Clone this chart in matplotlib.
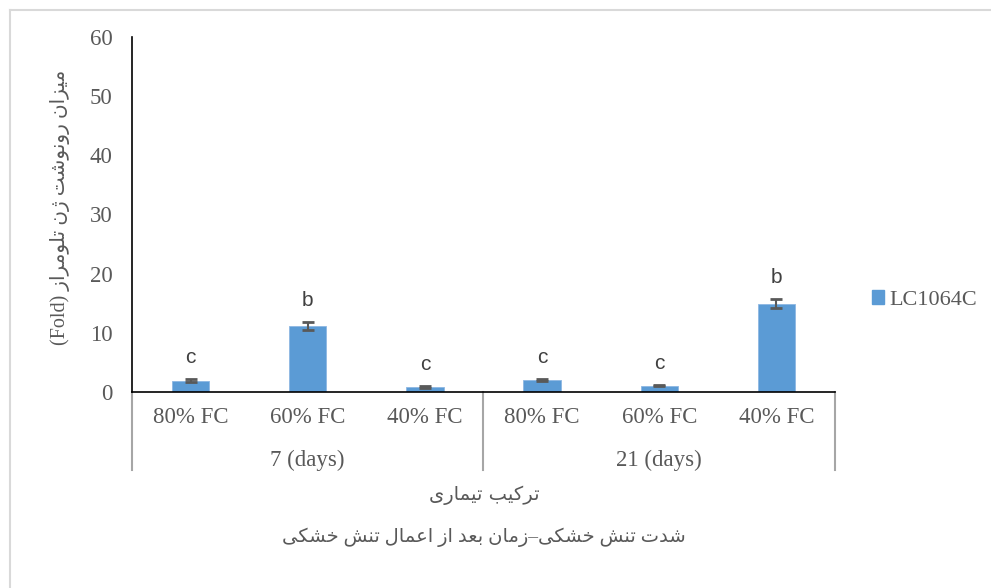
import matplotlib
matplotlib.use('Agg')
import matplotlib.pyplot as plt
from matplotlib.lines import Line2D
from matplotlib.patches import Patch
import matplotlib.transforms as mtransforms

# data
categories = ['80% FC', '60% FC', '40% FC', '80% FC', '60% FC', '40% FC']
groups = ['7 (days)', '21 (days)']
values = [1.9, 11.1, 0.85, 2.0, 1.05, 14.9]
errors = [0.25, 0.7, 0.1, 0.2, 0.1, 0.75]
letters = ['c', 'b', 'c', 'c', 'c', 'b']
series_name = 'LC1064C'
yticks = [0, 10, 20, 30, 40, 50, 60]

ylabel_fa = 'میزان رونوشت ژن تلومراز'
xlabel1_fa = 'ترکیب تیماری'
xlabel2_fa = 'شدت تنش خشکی–زمان بعد از اعمال تنش خشکی'

# simple persian shaping (matplotlib has no RTL layout)
# isolated, final, initial, medial
FORMS = {
    'ا': ('\uFE8D', '\uFE8E', None, None),
    'ب': ('\uFE8F', '\uFE90', '\uFE91', '\uFE92'),
    'ت': ('\uFE95', '\uFE96', '\uFE97', '\uFE98'),
    'خ': ('\uFEA5', '\uFEA6', '\uFEA7', '\uFEA8'),
    'د': ('\uFEA9', '\uFEAA', None, None),
    'ر': ('\uFEAD', '\uFEAE', None, None),
    'ز': ('\uFEAF', '\uFEB0', None, None),
    'ژ': ('\uFB8A', '\uFB8B', None, None),
    'ش': ('\uFEB5', '\uFEB6', '\uFEB7', '\uFEB8'),
    'ع': ('\uFEC9', '\uFECA', '\uFECB', '\uFECC'),
    'ک': ('\uFB8E', '\uFB8F', '\uFB90', '\uFB91'),
    'ل': ('\uFEDD', '\uFEDE', '\uFEDF', '\uFEE0'),
    'م': ('\uFEE1', '\uFEE2', '\uFEE3', '\uFEE4'),
    'ن': ('\uFEE5', '\uFEE6', '\uFEE7', '\uFEE8'),
    'و': ('\uFEED', '\uFEEE', None, None),
    'ی': ('\uFBFC', '\uFBFD', '\uFBFE', '\uFBFF'),
}


def shape_fa(text):
    out = []
    for i, ch in enumerate(text):
        if ch not in FORMS:
            out.append(ch)
            continue
        prev = text[i - 1] if i > 0 else ''
        nxt = text[i + 1] if i + 1 < len(text) else ''
        join_prev = prev in FORMS and FORMS[prev][2] is not None
        join_next = nxt in FORMS and FORMS[ch][2] is not None
        iso, fin, ini, med = FORMS[ch]
        if join_prev and join_next:
            out.append(med)
        elif join_prev:
            out.append(fin)
        elif join_next:
            out.append(ini)
        else:
            out.append(iso)
    return ''.join(out)[::-1]


W, H = 991, 588
fig = plt.figure(figsize=(W / 100, H / 100), dpi=100)
ax = fig.add_axes([132 / W, 1 - 392 / H, (835 - 132) / W, (392 - 37) / H])

serif = ['Liberation Serif', 'DejaVu Sans']
gray = '#595959'
fs = 16.5

x = list(range(len(values)))
ax.bar(x, values, width=0.32, color='#5B9BD5', edgecolor='#8DB7E3', linewidth=0.6, zorder=2)
ax.errorbar(x, values, yerr=errors, fmt='none', ecolor=gray, elinewidth=1.5,
            capsize=4, capthick=2, zorder=3)

for xi, v, e, t in zip(x, values, errors, letters):
    ax.text(xi, v + e + 3.7, t, ha='center', va='center', fontsize=15,
            family='Liberation Sans', color='#404040')

ax.set_xlim(-0.5, 5.5)
ax.set_ylim(0, 60)
ax.set_yticks(yticks)
ax.set_yticklabels([str(t) for t in yticks], family=serif, fontsize=fs, color=gray)
ax.set_xticks(x)
ax.set_xticklabels(categories, family=serif, fontsize=fs, color=gray)
ax.tick_params(axis='y', length=0, pad=14)
ax.tick_params(axis='x', length=0, pad=11)

for s in ['top', 'right']:
    ax.spines[s].set_visible(False)
for s in ['left', 'bottom']:
    ax.spines[s].set_color('black')
    ax.spines[s].set_linewidth(1.2)

# group separators and group labels
trans = mtransforms.blended_transform_factory(ax.transData, ax.transAxes)
for sx in [-0.5, 2.5, 5.5]:
    ax.plot([sx, sx], [0, -78 / 355], color='#A6A6A6', lw=1.5, transform=trans,
            clip_on=False)
for gi, g in enumerate(groups):
    ax.text(gi * 3 + 1, -68 / 355, g, transform=trans, ha='center', va='center',
            family=serif, fontsize=fs, color=gray)

# axis titles (persian)
fig.text(60 / W, 1 - 207 / H, '(Fold) ' + shape_fa(ylabel_fa), rotation=90,
         ha='center', va='center', family=serif, fontsize=14.5, color=gray)
fig.text(484 / W, 1 - 495 / H, shape_fa(xlabel1_fa), ha='center', va='center',
         family=['DejaVu Sans'], fontsize=14, color=gray)
fig.text(484 / W, 1 - 537 / H, shape_fa(xlabel2_fa), ha='center', va='center',
         family=serif, fontsize=14, color=gray)

# legend
ax.legend(handles=[Patch(color='#5B9BD5', label=series_name)], loc='center left',
          bbox_to_anchor=(852 / W, 1 - 300 / H), bbox_transform=fig.transFigure,
          frameon=False, handlelength=0.55, handleheight=0.55, handletextpad=0.25,
          prop={'family': serif, 'size': 16}, labelcolor=gray)

# outer frame line (top and left)
fig.add_artist(Line2D([10 / W, 10 / W], [0, 1 - 10 / H], color='#D9D9D9', lw=1.5,
                      transform=fig.transFigure))
fig.add_artist(Line2D([10 / W, 1], [1 - 10 / H, 1 - 10 / H], color='#D9D9D9', lw=1.5,
                      transform=fig.transFigure))

fig.savefig('out.png', dpi=100)
